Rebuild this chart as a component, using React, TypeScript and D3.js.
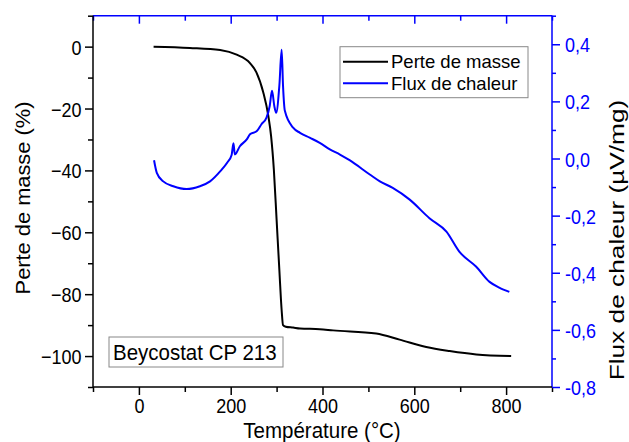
import { useRef, useEffect } from "react";
import * as d3 from "d3";

// Perte de masse (%) vs température (°C)
const tempMasse = [32, 111, 177, 213, 242, 256, 271, 282, 288, 294, 300, 306, 311, 314, 320, 336, 351, 394, 423, 517, 568, 626, 677, 735, 811];
const masse = [0, -0.4, -1.1, -2.6, -5.3, -8.3, -14.8, -22.4, -28.9, -39.7, -55.9, -72.2, -85.2, -90, -90.5, -90.8, -91.1, -91.3, -91.7, -92.7, -94.7, -97.1, -98.4, -99.5, -100];

// Flux de chaleur (µV/mg) vs température (°C)
const tempFlux = [33, 39, 53, 75, 104, 133, 155, 177, 193, 202, 206, 209, 220, 235, 242, 257, 267, 278, 285, 290, 295, 299, 306, 311, 314, 318, 336, 351, 372, 394, 416, 438, 459, 503, 525, 553, 590, 633, 670, 698, 735, 764, 785, 807];
const flux = [-0.006, -0.05, -0.08, -0.097, -0.107, -0.097, -0.08, -0.045, -0.013, 0.012, 0.053, 0.014, 0.043, 0.067, 0.085, 0.096, 0.12, 0.143, 0.184, 0.237, 0.184, 0.16, 0.255, 0.381, 0.255, 0.167, 0.108, 0.09, 0.073, 0.055, 0.032, 0.014, -0.006, -0.056, -0.08, -0.103, -0.144, -0.209, -0.256, -0.326, -0.379, -0.432, -0.452, -0.467];

const xMajor = [0, 200, 400, 600, 800];
const xMinor = [-100, 100, 300, 500, 700, 900];
const yLeftMajor = [-100, -80, -60, -40, -20, 0];
const yLeftMinor = [-110, -90, -70, -50, -30, -10, 10];
const yRightMajor = [-0.8, -0.6, -0.4, -0.2, 0, 0.2, 0.4];
const yRightMinor = [-0.7, -0.5, -0.3, -0.1, 0.1, 0.3, 0.5];

const BLUE = "#0000ff";
const FONT = "'Liberation Sans', Arial, sans-serif";
const STRETCH = 1.12; // the source picture is a bit taller than wide

export default function App() {
  const svgRef = useRef<SVGSVGElement>(null);

  useEffect(() => {
    if (!svgRef.current) return;
    const svg = d3.select(svgRef.current);
    svg.selectAll("*").remove();

    const width = 629;
    const height = 442;
    const left = 93, right = 552, top = 15.7, bottom = 387;

    const x = d3.scaleLinear().domain([-100, 900]).range([left, right]);
    const yL = d3.scaleLinear().domain([-110, 10]).range([bottom, top]);
    const yR = d3.scaleLinear().domain([-0.8, 0.5]).range([bottom, top]);

    const loc = d3.formatLocale({ decimal: ",", thousands: " ", grouping: [3], currency: ["", ""], minus: "-" });
    const fmtR = loc.format(".1f");

    svg.attr("width", width).attr("height", height).style("font-family", FONT);
    svg.append("rect").attr("width", width).attr("height", height).attr("fill", "#fff");

    const styleAxis = (g: any, color: string) => {
      g.select(".domain").remove();
      g.selectAll("line").attr("stroke", color).attr("stroke-width", 1.5);
      g.selectAll("text").attr("fill", color).style("font-size", "18px").style("font-family", FONT);
    };
    // put tick labels at a fixed offset and stretch them vertically
    const placeLabels = (g: any, dx: number, dy: number) => {
      g.selectAll(".tick text")
        .attr("x", null)
        .attr("y", null)
        .attr("dy", null)
        .attr("transform", `translate(${dx},${dy}) scale(1,${STRETCH})`);
    };

    // curves
    const lineMasse = d3
      .line<number>()
      .x((_, i) => x(tempMasse[i]))
      .y((d) => yL(d))
      .curve(d3.curveMonotoneX);
    svg.append("path").attr("d", lineMasse(masse)).attr("fill", "none").attr("stroke", "#000").attr("stroke-width", 2);

    const lineFlux = d3
      .line<number>()
      .x((_, i) => x(tempFlux[i]))
      .y((d) => yR(d))
      .curve(d3.curveMonotoneX);
    svg.append("path").attr("d", lineFlux(flux)).attr("fill", "none").attr("stroke", BLUE).attr("stroke-width", 2).attr("stroke-linejoin", "round");

    // bottom axis
    svg.append("g").attr("transform", `translate(0,${bottom})`)
      .call(d3.axisBottom(x).tickValues(xMajor).tickSize(8).tickFormat(d3.format("d")))
      .call((g) => styleAxis(g, "#000"))
      .call((g) => placeLabels(g, 0, 25.5));
    svg.append("g").attr("transform", `translate(0,${bottom})`)
      .call(d3.axisBottom(x).tickValues(xMinor).tickSize(5).tickFormat(() => ""))
      .call((g) => styleAxis(g, "#000"));

    // top axis (blue, ticks inside)
    svg.append("g").attr("transform", `translate(0,${top})`)
      .call(d3.axisTop(x).tickValues(xMajor).tickSize(-8).tickFormat(() => ""))
      .call((g) => styleAxis(g, BLUE));
    svg.append("g").attr("transform", `translate(0,${top})`)
      .call(d3.axisTop(x).tickValues(xMinor).tickSize(-5).tickFormat(() => ""))
      .call((g) => styleAxis(g, BLUE));

    // left axis
    svg.append("g").attr("transform", `translate(${left},0)`)
      .call(d3.axisLeft(yL).tickValues(yLeftMajor).tickSize(8).tickFormat(d3.format("d")))
      .call((g) => styleAxis(g, "#000"))
      .call((g) => placeLabels(g, -11.5, 7.5));
    svg.append("g").attr("transform", `translate(${left},0)`)
      .call(d3.axisLeft(yL).tickValues(yLeftMinor).tickSize(5).tickFormat(() => ""))
      .call((g) => styleAxis(g, "#000"));

    // right axis (blue)
    svg.append("g").attr("transform", `translate(${right},0)`)
      .call(d3.axisRight(yR).tickValues(yRightMajor).tickSize(8).tickFormat((d) => fmtR(+d)))
      .call((g) => styleAxis(g, BLUE))
      .call((g) => placeLabels(g, 13, 7.5));
    svg.append("g").attr("transform", `translate(${right},0)`)
      .call(d3.axisRight(yR).tickValues(yRightMinor).tickSize(4).tickFormat(() => ""))
      .call((g) => styleAxis(g, BLUE));

    // frame lines
    svg.append("line").attr("x1", left).attr("x2", right).attr("y1", top).attr("y2", top).attr("stroke", BLUE).attr("stroke-width", 1.5);
    svg.append("line").attr("x1", right).attr("x2", right).attr("y1", top).attr("y2", bottom).attr("stroke", BLUE).attr("stroke-width", 1.5);
    svg.append("line").attr("x1", left).attr("x2", left).attr("y1", top).attr("y2", bottom).attr("stroke", "#000").attr("stroke-width", 1.5);
    svg.append("line").attr("x1", left).attr("x2", right).attr("y1", bottom).attr("y2", bottom).attr("stroke", "#000").attr("stroke-width", 1.5);

    // axis titles
    svg.append("text").attr("transform", `translate(${(left + right) / 2 - 0.5},438) scale(1,1.08)`).attr("text-anchor", "middle")
      .style("font-size", "20.5px").attr("fill", "#000").text("Température (°C)");
    svg.append("text").attr("transform", `translate(30,198) rotate(-90) scale(${STRETCH},1)`).attr("text-anchor", "middle")
      .style("font-size", "19.5px").attr("fill", "#000").text("Perte de masse (%)");
    svg.append("text").attr("transform", `translate(624,240) rotate(-90) scale(1.25,1)`).attr("text-anchor", "middle")
      .style("font-size", "21px").attr("fill", "#000").text("Flux de chaleur (µV/mg)");

    // legend
    const leg = svg.append("g").attr("transform", "translate(340,46.7)");
    leg.append("rect").attr("width", 188).attr("height", 51).attr("fill", "#fff").attr("stroke", "#888").attr("stroke-width", 1);
    leg.append("line").attr("x1", 3).attr("x2", 48).attr("y1", 15).attr("y2", 15).attr("stroke", "#000").attr("stroke-width", 2);
    leg.append("line").attr("x1", 3).attr("x2", 48).attr("y1", 36.6).attr("y2", 36.6).attr("stroke", BLUE).attr("stroke-width", 2);
    leg.append("text").attr("x", 51).attr("y", 21.5).style("font-size", "18.5px").attr("fill", "#000").text("Perte de masse");
    leg.append("text").attr("x", 51).attr("y", 43).style("font-size", "18.5px").attr("fill", "#000").text("Flux de chaleur");

    // sample label
    const lab = svg.append("g").attr("transform", "translate(109,337)");
    lab.append("rect").attr("width", 174).attr("height", 30).attr("fill", "#fff").attr("stroke", "#888").attr("stroke-width", 1);
    lab.append("text").attr("transform", `translate(4,22.5) scale(1,${STRETCH})`).style("font-size", "20.5px").attr("fill", "#000").text("Beycostat CP 213");

    return () => {
      svg.selectAll("*").remove();
    };
  }, []);

  return (
    <div style={{ position: "absolute", left: 0, top: 0 }}>
      <svg ref={svgRef} style={{ display: "block" }} />
    </div>
  );
}
